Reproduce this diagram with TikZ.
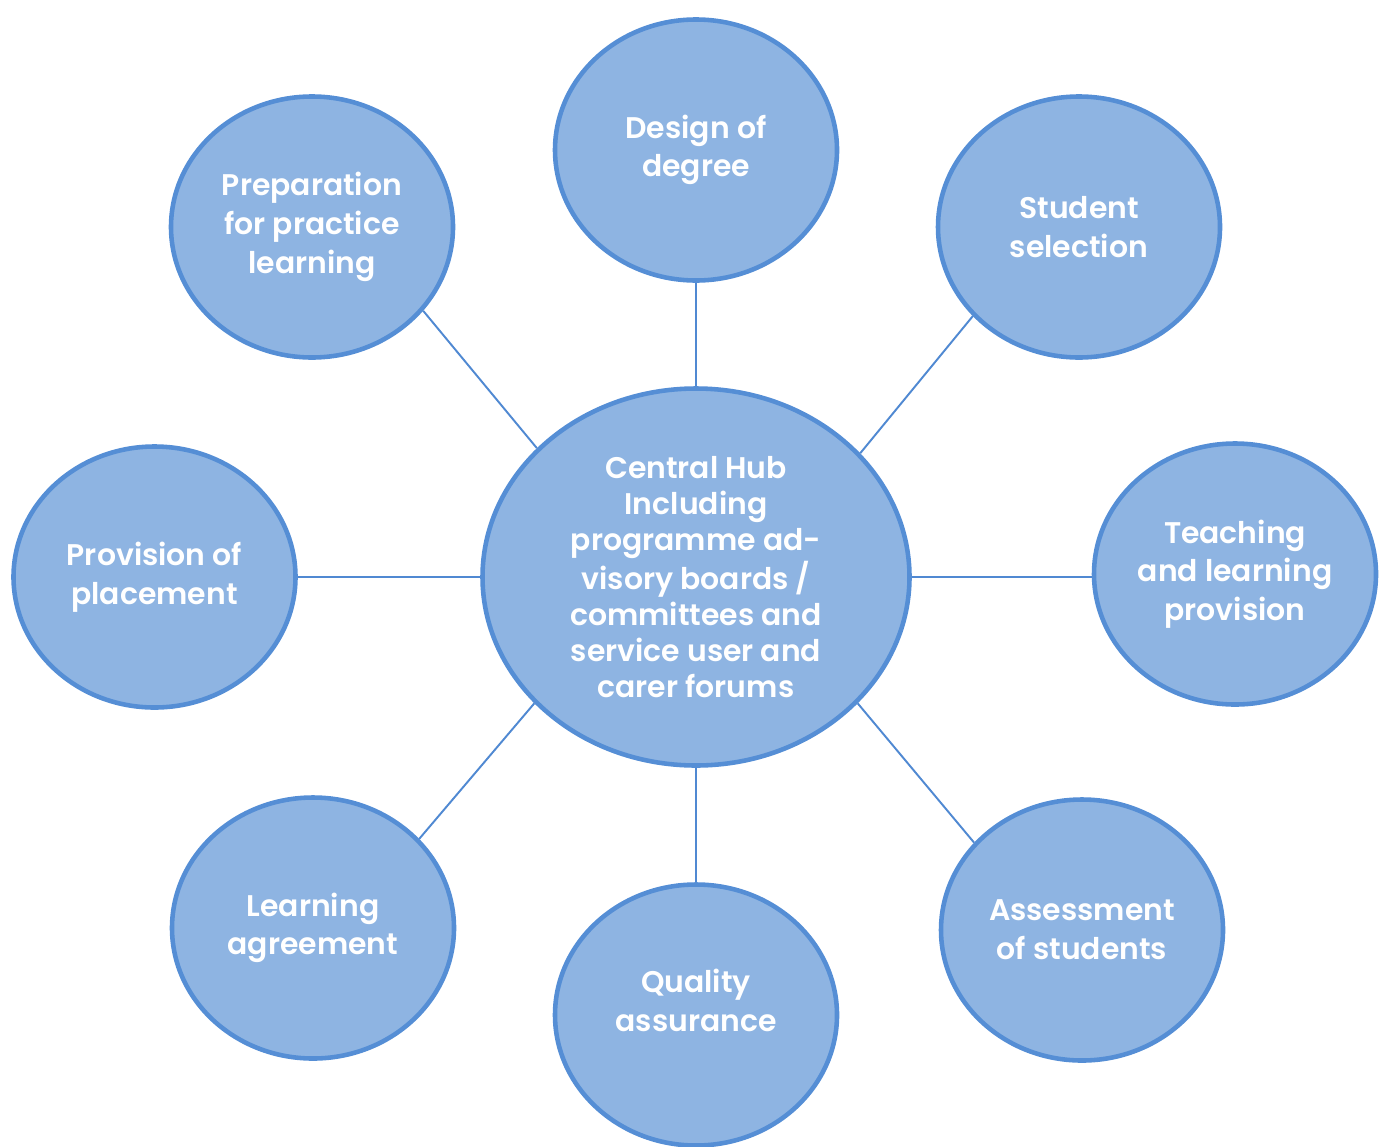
\documentclass[tikz,border=0pt]{standalone}
\usepackage{fontspec}
\setmainfont{Poppins}[BoldFont=* SemiBold]
\usepackage{xcolor}
\usepackage{tikz}
\usetikzlibrary{shapes}
\definecolor{ballfill}{HTML}{8EB4E2}
\definecolor{balledge}{HTML}{558ED5}
\definecolor{linkline}{HTML}{5089D2}
\tikzset{ell/.style={ellipse,draw=balledge,fill=ballfill,line width=2.6pt,minimum width=5.64cm,minimum height=5.22cm,inner sep=0pt,align=center,text=white,font=\bfseries\fontsize{17}{22}\selectfont}}
\tikzset{hub/.style={ell,minimum width=8.54cm,minimum height=7.54cm,font=\bfseries\fontsize{17}{20.5}\selectfont}}
\tikzset{link/.style={draw=linkline,line width=1.1pt}}

\begin{document}
\begin{tikzpicture}
    \useasboundingbox (0,0) rectangle (27.58,-22.92);
    \node[hub] (h)at (13.92,-11.54) {Central Hub\\Including\\programme ad-\\visory boards /\\committees and\\service user and\\carer forums};
    \node[ell] (des)at (13.92,-3.00) {Design of\\degree};
    \node[ell] (sel)at (21.58,-4.54) {Student\\selection};
    \node[ell] (prep)at (6.24,-4.54) {Preparation\\for practice\\learning};
    \node[ell] (plac)at (3.09,-11.54) {Provision of\\placement};
    \node[ell] (teach)at (24.70,-11.48) {Teaching\\and learning\\provision};
    \node[ell] (agr)at (6.26,-18.56) {Learning\\agreement};
    \node[ell,text depth=0.6cm] (qa)at (13.92,-20.30) {Quality\\assurance};
    \node[ell] (ass)at (21.64,-18.60) {Assessment\\of students};

    % spokes out of the hub
    \draw [link] (h) to (des);
    \draw [link] (h) to (qa);
    \draw [link] (h) to (plac);
    \draw [link] (h.east) to (h.east -| teach.west);
    \draw [link] (h.141) to (prep.-37);
    \draw [link] (h.37) to (sel.220);
    \draw [link] (h.-38) to (ass.141);
    \draw [link] (h.218) to (agr.40);
\end{tikzpicture}
\end{document}
